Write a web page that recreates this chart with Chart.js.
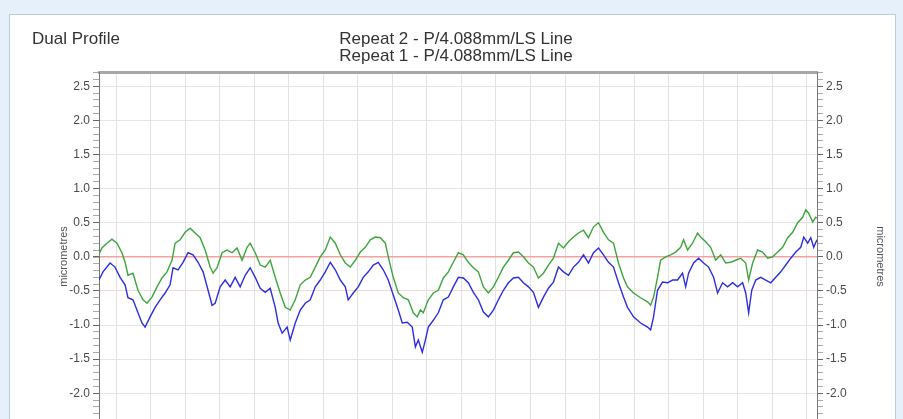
<!DOCTYPE html>
<html>
<head>
<meta charset="utf-8">
<title>Dual Profile</title>
<script src="https://cdn.jsdelivr.net/npm/chart.js@4.4.1/dist/chart.umd.min.js"></script>
<style>
  html, body { margin: 0; padding: 0; overflow: hidden; }
  body { width: 903px; height: 419px; background: #e6f0fa; position: relative; }
  .panel {
    position: absolute; left: 9px; top: 14px; width: 887px; height: 430px;
    background: #fff; border: 1px solid #b7cee7; box-sizing: border-box;
  }
  #profile { position: absolute; left: 0; top: 0; }
</style>
</head>
<body>
<div class="panel"></div>
<canvas id="profile" width="903" height="460"></canvas>

<script>
/* ================================================================
   Data (x in mm, heights in micrometres)
   ================================================================ */
const X_TICKS = [0, 0.2, 0.4, 0.6, 0.8, 1.0, 1.2, 1.4, 1.6, 1.8, 2.0,
                 2.2, 2.4, 2.6, 2.8, 3.0, 3.2, 3.4, 3.6, 3.8, 4.0];
const Y_LABELS = [-2.5, -2.0, -1.5, -1.0, -0.5, 0.0, 0.5, 1.0, 1.5, 2.0, 2.5];

// Repeat 2 (green)
const REPEAT2_X = [
  -0.100, -0.083, -0.054, -0.025, 0.004, 0.033, 0.051, 0.068, 0.097, 0.126,
  0.155, 0.178, 0.207, 0.236, 0.265, 0.294, 0.323, 0.341, 0.370, 0.399,
  0.428, 0.457, 0.486, 0.515, 0.544, 0.561, 0.584, 0.613, 0.642, 0.671,
  0.700, 0.729, 0.758, 0.776, 0.805, 0.834, 0.863, 0.892, 0.921, 0.950,
  0.979, 1.008, 1.037, 1.066, 1.095, 1.124, 1.153, 1.182, 1.211, 1.240,
  1.269, 1.298, 1.327, 1.356, 1.385, 1.414, 1.443, 1.472, 1.501, 1.530,
  1.559, 1.576, 1.605, 1.634, 1.663, 1.692, 1.721, 1.744, 1.762, 1.779,
  1.808, 1.837, 1.866, 1.895, 1.924, 1.953, 1.982, 2.011, 2.040, 2.069,
  2.098, 2.127, 2.156, 2.185, 2.214, 2.243, 2.272, 2.301, 2.330, 2.359,
  2.388, 2.417, 2.446, 2.475, 2.504, 2.533, 2.562, 2.591, 2.620, 2.649,
  2.678, 2.707, 2.736, 2.765, 2.794, 2.823, 2.852, 2.881, 2.910, 2.939,
  2.962, 2.997, 3.038, 3.078, 3.096, 3.113, 3.136, 3.154, 3.183, 3.212,
  3.241, 3.270, 3.287, 3.310, 3.339, 3.368, 3.386, 3.415, 3.444, 3.473,
  3.502, 3.531, 3.560, 3.589, 3.618, 3.647, 3.664, 3.687, 3.716, 3.745,
  3.774, 3.803, 3.832, 3.861, 3.890, 3.919, 3.948, 3.977, 3.995, 4.012,
  4.035, 4.053, 4.060
];
const REPEAT2_Y = [
  0.04, 0.13, 0.20, 0.26, 0.20, 0.06, -0.08, -0.27, -0.24, -0.49,
  -0.63, -0.68, -0.59, -0.44, -0.31, -0.22, -0.05, 0.20, 0.25, 0.36,
  0.42, 0.35, 0.28, 0.10, -0.15, -0.24, -0.16, 0.06, 0.10, 0.06,
  0.13, -0.05, 0.14, 0.20, 0.06, -0.12, -0.15, -0.05, -0.30, -0.53,
  -0.74, -0.78, -0.63, -0.41, -0.34, -0.30, -0.15, 0.00, 0.10, 0.29,
  0.20, 0.03, -0.09, -0.15, -0.05, 0.07, 0.14, 0.25, 0.29, 0.28,
  0.20, 0.00, -0.30, -0.53, -0.60, -0.63, -0.82, -0.88, -0.78, -0.82,
  -0.63, -0.53, -0.49, -0.31, -0.22, -0.08, 0.06, 0.03, -0.08, -0.16,
  -0.22, -0.44, -0.53, -0.44, -0.30, -0.15, -0.05, 0.06, 0.07, 0.00,
  -0.09, -0.15, -0.31, -0.24, -0.12, -0.02, 0.20, 0.13, 0.22, 0.29,
  0.35, 0.39, 0.28, 0.44, 0.50, 0.36, 0.25, 0.20, -0.09, -0.31,
  -0.44, -0.53, -0.60, -0.66, -0.71, -0.59, -0.30, -0.05, 0.00, 0.03,
  0.07, 0.14, 0.25, 0.10, 0.20, 0.35, 0.29, 0.22, 0.14, -0.05,
  0.03, -0.09, -0.08, -0.05, -0.02, -0.09, -0.34, -0.09, 0.10, 0.07,
  -0.02, 0.00, 0.07, 0.14, 0.28, 0.36, 0.50, 0.58, 0.69, 0.64,
  0.51, 0.58, 0.57
];

// Repeat 1 (blue)
const REPEAT1_X = [
  -0.100, -0.077, -0.036, -0.007, 0.022, 0.051, 0.068, 0.097, 0.126, 0.149,
  0.167, 0.196, 0.225, 0.254, 0.283, 0.312, 0.329, 0.358, 0.387, 0.416,
  0.445, 0.474, 0.503, 0.532, 0.555, 0.573, 0.602, 0.631, 0.660, 0.689,
  0.718, 0.747, 0.776, 0.805, 0.834, 0.863, 0.892, 0.921, 0.938, 0.961,
  0.990, 1.008, 1.037, 1.066, 1.095, 1.124, 1.153, 1.182, 1.211, 1.240,
  1.269, 1.298, 1.327, 1.344, 1.373, 1.402, 1.431, 1.460, 1.489, 1.518,
  1.547, 1.576, 1.605, 1.634, 1.657, 1.686, 1.715, 1.733, 1.750, 1.773,
  1.791, 1.808, 1.837, 1.866, 1.895, 1.924, 1.953, 1.982, 2.011, 2.040,
  2.069, 2.098, 2.127, 2.156, 2.185, 2.214, 2.243, 2.272, 2.301, 2.330,
  2.359, 2.388, 2.417, 2.446, 2.475, 2.504, 2.533, 2.562, 2.591, 2.620,
  2.649, 2.678, 2.707, 2.736, 2.765, 2.794, 2.823, 2.852, 2.881, 2.910,
  2.939, 2.962, 2.997, 3.038, 3.078, 3.096, 3.113, 3.136, 3.165, 3.194,
  3.223, 3.252, 3.281, 3.299, 3.316, 3.345, 3.374, 3.403, 3.432, 3.461,
  3.484, 3.513, 3.542, 3.571, 3.600, 3.629, 3.647, 3.664, 3.682, 3.705,
  3.734, 3.763, 3.792, 3.821, 3.850, 3.879, 3.908, 3.937, 3.966, 3.983,
  4.006, 4.024, 4.041, 4.060
];
const REPEAT1_Y = [
  -0.34, -0.22, -0.09, -0.15, -0.30, -0.41, -0.60, -0.63, -0.82, -0.97,
  -1.03, -0.88, -0.74, -0.63, -0.53, -0.41, -0.16, -0.19, -0.08, 0.06,
  0.03, -0.08, -0.22, -0.49, -0.71, -0.68, -0.44, -0.34, -0.44, -0.30,
  -0.44, -0.27, -0.16, -0.30, -0.46, -0.52, -0.46, -0.74, -0.97, -1.12,
  -1.03, -1.22, -0.97, -0.78, -0.68, -0.63, -0.44, -0.34, -0.22, -0.08,
  -0.19, -0.34, -0.44, -0.63, -0.53, -0.44, -0.30, -0.22, -0.12, -0.08,
  -0.19, -0.34, -0.56, -0.78, -0.97, -0.96, -1.03, -1.32, -1.22, -1.40,
  -1.22, -1.03, -0.93, -0.82, -0.63, -0.59, -0.44, -0.30, -0.31, -0.38,
  -0.52, -0.63, -0.81, -0.88, -0.78, -0.63, -0.49, -0.38, -0.31, -0.30,
  -0.38, -0.44, -0.52, -0.74, -0.59, -0.46, -0.37, -0.15, -0.22, -0.27,
  -0.15, -0.08, 0.03, -0.09, 0.06, 0.13, 0.03, -0.08, -0.15, -0.38,
  -0.59, -0.74, -0.88, -0.97, -1.03, -1.07, -0.88, -0.49, -0.37, -0.38,
  -0.34, -0.34, -0.24, -0.44, -0.24, -0.09, -0.02, -0.09, -0.15, -0.30,
  -0.53, -0.38, -0.44, -0.38, -0.44, -0.38, -0.53, -0.82, -0.49, -0.34,
  -0.30, -0.34, -0.38, -0.30, -0.22, -0.12, -0.02, 0.07, 0.14, 0.29,
  0.20, 0.28, 0.14, 0.25
];
/* ================================================================ */

const X_MIN = -0.1, X_MAX = 4.06;
const Y_MIN = -2.7, Y_MAX = 2.71;

const near = (a, b) => Math.abs(a - b) < 1e-6;
const isLabelled = v => Y_LABELS.some(l => near(l, v));

function minorTicks(scale) {
  // ruler style: a tick every 0.1 µm, labels only on Y_LABELS
  const ticks = [];
  for (let i = -27; i <= 27; i++) ticks.push({ value: i / 10 });
  scale.ticks = ticks;
}

const yTicks = {
  color: '#4a4a4a',
  font: { family: "'Liberation Sans', Arial, sans-serif", size: 12 },
  padding: 3,
  autoSkip: false,
  callback: v => isLabelled(v) ? v.toFixed(1) : ''
};
const yTitle = {
  display: true,
  text: 'micrometres',
  color: '#555',
  font: { family: "'Liberation Sans', Arial, sans-serif", size: 11 },
  padding: 4
};

// header texts, drawn once the chart is laid out
const headerText = {
  id: 'headerText',
  afterDraw(chart) {
    const ctx = chart.ctx;
    ctx.save();
    ctx.fillStyle = '#333';
    ctx.font = "17px 'Liberation Sans', Arial, sans-serif";
    ctx.textBaseline = 'alphabetic';
    ctx.textAlign = 'left';
    ctx.fillText('Dual Profile', 32, 44);
    ctx.textAlign = 'center';
    ctx.fillText('Repeat 2 - P/4.088mm/LS Line', 456, 44);
    ctx.fillText('Repeat 1 - P/4.088mm/LS Line', 456, 61);
    ctx.restore();
  }
};

new Chart(document.getElementById('profile'), {
  type: 'line',
  data: {
    datasets: [
      {
        label: 'Repeat 2',
        data: REPEAT2_X.map((x, i) => ({ x, y: REPEAT2_Y[i] })),
        borderColor: '#3da53d',
        borderWidth: 1.4,
        pointRadius: 0,
        tension: 0
      },
      {
        label: 'Repeat 1',
        data: REPEAT1_X.map((x, i) => ({ x, y: REPEAT1_Y[i] })),
        borderColor: '#2d2de2',
        borderWidth: 1.4,
        pointRadius: 0,
        tension: 0
      }
    ]
  },
  options: {
    responsive: false,
    animation: false,
    devicePixelRatio: 1,
    layout: { padding: { left: 53, right: 12, top: 72, bottom: 19 } },
    plugins: { legend: { display: false }, tooltip: { enabled: false }, title: { display: false } },
    scales: {
      x: {
        type: 'linear', position: 'bottom', min: X_MIN, max: X_MAX,
        afterBuildTicks: s => { s.ticks = X_TICKS.map(v => ({ value: v })); },
        ticks: { display: false },
        grid: { color: '#e2e2e2', drawTicks: false },
        border: { display: false }
      },
      xTop: {
        type: 'linear', position: 'top', min: X_MIN, max: X_MAX,
        ticks: { display: false },
        grid: { display: false, drawTicks: false },
        border: { display: true, color: '#a8a8a8', width: 3 }
      },
      y: {
        type: 'linear', position: 'left', min: Y_MIN, max: Y_MAX,
        afterBuildTicks: minorTicks,
        afterFit: s => { s.width = 46; },
        ticks: yTicks,
        title: yTitle,
        grid: {
          tickLength: 6,
          color: c => {
            const v = c.tick.value;
            if (near(v, 0)) return '#f3a2a2';
            if (near(v, -0.5)) return '#f4d8d8';
            return isLabelled(v) ? '#e4e4e4' : 'rgba(0,0,0,0)';
          },
          lineWidth: c => near(c.tick.value, 0) ? 1.5 : 1,
          tickColor: c => isLabelled(c.tick.value) ? '#666' : '#aaa'
        },
        border: { display: true, color: '#777', width: 1 }
      },
      y2: {
        type: 'linear', position: 'right', min: Y_MIN, max: Y_MAX,
        afterBuildTicks: minorTicks,
        afterFit: s => { s.width = 74; },
        ticks: yTicks,
        title: yTitle,
        grid: {
          drawOnChartArea: false,
          tickLength: 6,
          tickColor: c => isLabelled(c.tick.value) ? '#666' : '#aaa'
        },
        border: { display: true, color: '#777', width: 1 }
      }
    }
  },
  plugins: [headerText]
});
</script>
</body>
</html>
